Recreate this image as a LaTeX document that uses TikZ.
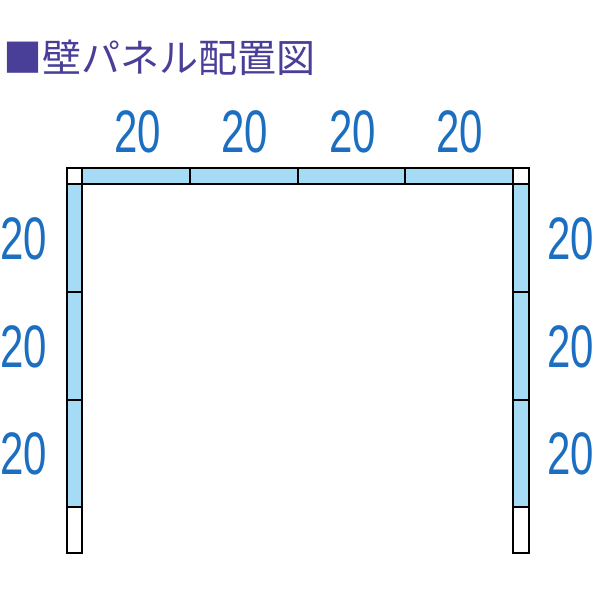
\documentclass[tikz,border=0pt]{standalone}
\usepackage{fontspec}
\setmainfont{Liberation Sans}
\newfontfamily\cjk{Noto Sans CJK JP}
\definecolor{titlec}{HTML}{4A3F98}
\definecolor{numc}{HTML}{1C6EC0}
\definecolor{panelc}{HTML}{A6DBF5}
\begin{document}
\begin{tikzpicture}[x=1pt,y=-1pt,
  panel/.style={draw=black,line width=2.8pt,fill=panelc},
  blank/.style={draw=black,line width=2.8pt,fill=white},
  num/.style={text=numc,inner sep=0pt,font=\fontsize{60}{60}\selectfont},
  title/.style={text=titlec,inner sep=0pt,anchor=west,font=\cjk\fontsize{39}{39}\selectfont}]
\useasboundingbox[fill=white] (0,0) rectangle (600,600);
% title
\node[title] (t) at (3,58) {■壁パネル配置図};
% top row
\draw[blank] (67,168) rectangle (82,184);
\draw[blank] (513,168) rectangle (529,184);
\foreach \a/\b in {82/190,190/298,298/405,405/513}
  \draw[panel] (\a,168) rectangle (\b,184);
% left column
\foreach \a/\b in {184/292,292/400,400/507}
  \draw[panel] (67,\a) rectangle (82,\b);
\draw[blank] (67,507) rectangle (82,553);
% right column
\foreach \a/\b in {184/292,292/400,400/507}
  \draw[panel] (513,\a) rectangle (529,\b);
\draw[blank] (513,507) rectangle (529,553);
% numbers
\node[num] (n1) at (138,132) {\scalebox{0.7}[1]{20}};
\node[num] (n2) at (245,132) {\scalebox{0.7}[1]{20}};
\node[num] (n3) at (353,132) {\scalebox{0.7}[1]{20}};
\node[num] (n4) at (460,132) {\scalebox{0.7}[1]{20}};
\node[num] (l1) at (24,239) {\scalebox{0.7}[1]{20}};
\node[num] (l2) at (24,347) {\scalebox{0.7}[1]{20}};
\node[num] (l3) at (24,454) {\scalebox{0.7}[1]{20}};
\node[num] (r1) at (571,239) {\scalebox{0.7}[1]{20}};
\node[num] (r2) at (571,347) {\scalebox{0.7}[1]{20}};
\node[num] (r3) at (571,454) {\scalebox{0.7}[1]{20}};
\end{tikzpicture}
\end{document}
